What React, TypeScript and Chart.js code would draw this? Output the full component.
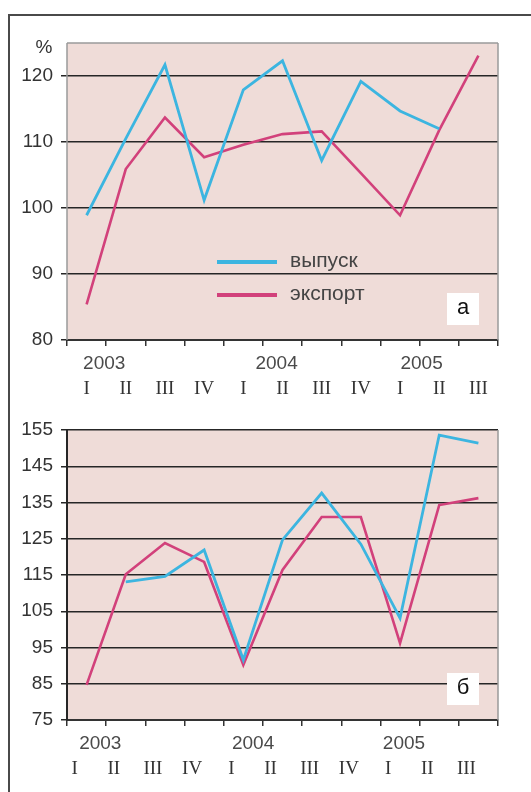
import React, { useEffect, useRef } from 'react';
import { Chart, registerables } from 'chart.js';
Chart.register(...registerables);

const quarters = ['I', 'II', 'III', 'IV', 'I', 'II', 'III', 'IV', 'I', 'II', 'III'];
const years = ['2003', '2004', '2005'];
const seriesNames = ['выпуск', 'экспорт'];
const outputA = [98.9, 110.5, 121.7, 101.2, 117.9, 122.3, 107.2, 119.2, 114.7, 112.0, null];
const exportA = [85.4, 105.9, 113.7, 107.7, 109.6, 111.2, 111.6, 105.3, 98.9, 111.8, 123.1];
const outputB = [null, 113.1, 114.6, 121.9, 91.6, 124.7, 137.6, 123.5, 103.1, 153.6, 151.4];
const exportB = [84.7, 115.2, 123.8, 118.6, 90.2, 116.4, 131.0, 131.0, 96.2, 134.3, 136.2];
const yRangeA = [80, 125];
const yRangeB = [75, 155];
const yStep = 10;

const BLUE = '#3cb5e0';
const PINK = '#d2417b';
const BG = '#efdcd8';

type PanelProps = {
  top: number;
  height: number;
  padTop: number;
  xHeight: number;
  out: (number | null)[];
  exp: (number | null)[];
  range: number[];
  letter: string;
  percent: boolean;
  legend: boolean;
  yearPos: number[];
  labelOffset: number;
  grayEdges: { top: boolean; left: boolean; right: boolean };
  yBorder: boolean;
};

function Panel(p: PanelProps) {
  const ref = useRef<HTMLCanvasElement>(null);
  useEffect(() => {
    const canvas = ref.current!;
    const decor = {
      id: 'decor',
      beforeDraw(chart: any) {
        const { ctx, chartArea: a } = chart;
        ctx.save();
        ctx.fillStyle = BG;
        ctx.fillRect(a.left, a.top, a.right - a.left, a.bottom - a.top);
        ctx.restore();
      },
      beforeDatasetsDraw(chart: any) {
        const { ctx, chartArea: a } = chart;
        ctx.save();
        ctx.strokeStyle = '#9a9a9a';
        ctx.lineWidth = 1.5;
        ctx.beginPath();
        if (p.grayEdges.top) { ctx.moveTo(a.left, a.top); ctx.lineTo(a.right, a.top); }
        if (p.grayEdges.right) { ctx.moveTo(a.right, a.top); ctx.lineTo(a.right, a.bottom); }
        if (p.grayEdges.left) { ctx.moveTo(a.left, a.top); ctx.lineTo(a.left, a.bottom); }
        ctx.stroke();
        ctx.restore();
      },
      afterDraw(chart: any) {
        const { ctx, chartArea: a } = chart;
        const xs = chart.scales.x;
        ctx.save();
        ctx.fillStyle = '#4a4a4a';
        ctx.font = '19px "Liberation Sans", Arial, sans-serif';
        ctx.textAlign = 'center';
        ctx.textBaseline = 'middle';
        years.forEach((y, i) => {
          ctx.fillText(y, xs.getPixelForValue(p.yearPos[i]), a.bottom + 24);
        });
        if (p.percent) {
          ctx.fillStyle = '#333';
          ctx.fillText('%', a.left - 23, a.top + 5);
        }
        if (p.legend) {
          const cols = [BLUE, PINK];
          seriesNames.forEach((n, i) => {
            const yy = a.top + 219 + i * 33;
            ctx.strokeStyle = cols[i];
            ctx.lineWidth = 4;
            ctx.beginPath();
            ctx.moveTo(a.left + 150, yy);
            ctx.lineTo(a.left + 210, yy);
            ctx.stroke();
            ctx.fillStyle = '#444';
            ctx.font = '21px "Liberation Sans", Arial, sans-serif';
            ctx.textAlign = 'left';
            ctx.fillText(n, a.left + 223, yy - 1);
          });
        }
        ctx.fillStyle = '#ffffff';
        ctx.fillRect(a.right - 51, a.bottom - 47, 32, 32);
        ctx.fillStyle = '#111';
        ctx.font = '22px "Liberation Sans", Arial, sans-serif';
        ctx.textAlign = 'center';
        ctx.textBaseline = 'middle';
        ctx.fillText(p.letter, a.right - 35, a.bottom - 32);
        ctx.restore();
      },
    };
    const chart = new Chart(canvas, {
      type: 'line',
      data: {
        labels: quarters,
        datasets: [
          { label: seriesNames[0], data: p.out, borderColor: BLUE, borderWidth: 2.8, pointRadius: 0, tension: 0, spanGaps: false },
          { label: seriesNames[1], data: p.exp, borderColor: PINK, borderWidth: 2.6, pointRadius: 0, tension: 0, spanGaps: false },
        ],
      },
      options: {
        animation: false,
        responsive: false,
        layout: { padding: { left: 0, right: 33, top: p.padTop, bottom: 0 } },
        plugins: { legend: { display: false }, tooltip: { enabled: false } },
        scales: {
          x: {
            type: 'category',
            offset: true,
            grid: { offset: true, drawOnChartArea: false, drawTicks: true, tickLength: 6, color: '#333', lineWidth: 1.5 },
            border: { display: true, color: '#333', width: 2 },
            ticks: {
              font: { family: '"Liberation Serif", serif', size: 19 },
              color: '#333',
              padding: 32,
              labelOffset: p.labelOffset,
              maxRotation: 0,
              autoSkip: false,
            },
            afterFit: (s: any) => { s.height = p.xHeight; },
          },
          y: {
            min: p.range[0],
            max: p.range[1],
            ticks: {
              stepSize: yStep,
              includeBounds: false,
              font: { family: '"Liberation Sans", Arial, sans-serif', size: 19 },
              color: '#333',
              padding: 8,
            },
            grid: { color: '#262626', lineWidth: 1.5, tickLength: 6 },
            border: { display: p.yBorder, color: '#262626', width: 2 },
            afterFit: (s: any) => { s.width = 67; },
          },
        },
      },
      plugins: [decor],
    } as any);
    return () => chart.destroy();
  }, []);
  return (
    <canvas
      ref={ref}
      width={531}
      height={p.height}
      style={{ position: 'absolute', left: 0, top: p.top, width: 531, height: p.height, display: 'block' }}
    />
  );
}

export default function App() {
  return (
    <div style={{ position: 'fixed', left: 0, top: 0, width: 531, height: 792, overflow: 'hidden', background: '#fff' }}>
      <div style={{ position: 'absolute', left: 8, top: 14, width: 600, height: 900, border: '2px solid #4a4a4a' }} />
      <Panel
        top={0}
        height={395}
        padTop={43}
        xHeight={55}
        out={outputA}
        exp={exportA}
        range={yRangeA}
        letter="а"
        percent={true}
        legend={true}
        yearPos={[0.45, 4.85, 8.55]}
        labelOffset={0}
        grayEdges={{ top: true, left: true, right: true }}
        yBorder={false}
      />
      <Panel
        top={395}
        height={397}
        padTop={35}
        xHeight={72}
        out={outputB}
        exp={exportB}
        range={yRangeB}
        letter="б"
        percent={false}
        legend={false}
        yearPos={[0.35, 4.25, 8.1]}
        labelOffset={-12}
        grayEdges={{ top: false, left: false, right: true }}
        yBorder={true}
      />
    </div>
  );
}
